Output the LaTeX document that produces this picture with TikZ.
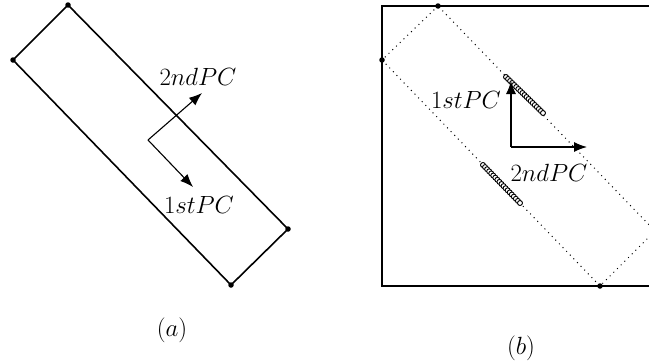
\documentclass[tikz,border=0pt]{standalone}
\usetikzlibrary{arrows.meta}
\begin{document}
\begin{tikzpicture}[x=1pt,y=-1pt,
  frame/.style={line width=1.6pt},
  dotline/.style={line width=1pt, dash pattern=on 1pt off 4.2pt},
  pcarrow/.style={line width=1.1pt,-{Latex[length=13pt,width=10pt]}},
  corner/.style={circle,fill=black,inner sep=0pt,minimum size=5.5pt},
  lbl/.style={font=\fontsize{23.5}{28}\selectfont, inner sep=0pt},
  sample/.style={draw=black,fill=white,line width=0.9pt}]
\useasboundingbox (0,0) rectangle (649,364);
\clip (0,0) rectangle (649,364);
% ---------- (a) ----------
\coordinate (a1) at (68,5);
\coordinate (a2) at (13,60);
\coordinate (a3) at (231,285);
\coordinate (a4) at (288,229);
\draw[frame] (a1) -- (a2) -- (a3) -- (a4) -- cycle;
\foreach \p in {a1,a2,a3,a4} \node[corner] at (\p) {};
\coordinate (ao) at (148,140);
\coordinate (a2nd) at (202,93);
\coordinate (a1st) at (193,187);
\draw[pcarrow] (ao) -- (a2nd);
\draw[pcarrow] (ao) -- (a1st);
\node[lbl] (la2) at (198,77) {$2ndPC$};
\node[lbl] (la1) at (199,205) {$1stPC$};
\node[lbl] (capa) at (172,330) {$(a)$};
% ---------- (b) ----------
\coordinate (btl) at (382,6);
\coordinate (bbl) at (382,286);
\coordinate (btr) at (680,6);
\coordinate (bbr) at (680,286);
\draw[frame] (btr) -- (btl) -- (bbl) -- (bbr);
\coordinate (b1) at (438,6);
\coordinate (b2) at (382,60);
\coordinate (b3) at (600,286);
\coordinate (b4) at (655,231);
\draw[dotline] (b1) -- (b2) -- (b3) -- (b4) -- cycle;
\foreach \p in {b1,b2,b3} \node[corner] at (\p) {};
% samples
\foreach \t in {0,1,...,18} {
  \draw[sample] ({506+37*\t/18},{77+36*\t/18}) circle (2.5pt);
  \draw[sample] ({483+37*\t/18},{165+38*\t/18}) circle (2.5pt);
}
\coordinate (bo) at (511,147);
\coordinate (bup) at (511,81);
\coordinate (bri) at (587,147);
\draw[pcarrow] (bo) -- (bup);
\draw[pcarrow] (bo) -- (bri);
\node[lbl] (lb1) at (466,100) {$1stPC$};
\node[lbl] (lb2) at (549,173) {$2ndPC$};
\node[lbl] (capb) at (521,348) {$(b)$};
\end{tikzpicture}
\end{document}
